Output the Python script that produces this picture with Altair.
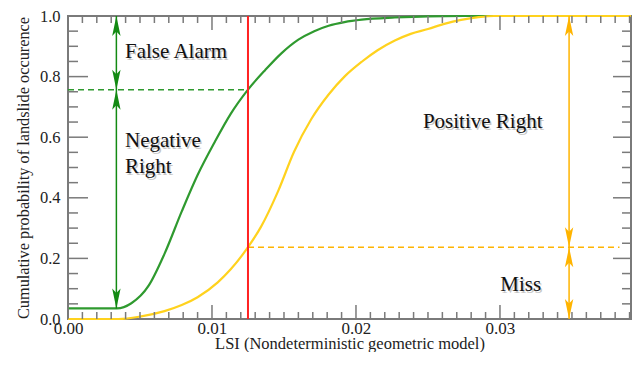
import altair as alt
import pandas as pd

# ---------------- data ----------------
green_x = [0.0, 0.0034, 0.0044, 0.0056, 0.0067, 0.0079, 0.0090, 0.0102, 0.0113, 0.0125,
           0.0137, 0.0148, 0.0160, 0.0171, 0.0181, 0.0192, 0.0204, 0.0227, 0.0250, 0.0275, 0.0391]
green_y = [0.035, 0.035, 0.052, 0.110, 0.215, 0.355, 0.475, 0.585, 0.677, 0.757,
           0.822, 0.876, 0.922, 0.950, 0.968, 0.980, 0.988, 0.995, 0.999, 1.0, 1.0]

yellow_x = [0.0, 0.0035, 0.0050, 0.0067, 0.0079, 0.0090, 0.0104, 0.0113, 0.0125, 0.0134,
            0.0146, 0.0157, 0.0169, 0.0181, 0.0192, 0.0204, 0.0215, 0.0227, 0.0238, 0.0250,
            0.0262, 0.0273, 0.0285, 0.0296, 0.0391]
yellow_y = [0.0, 0.0, 0.008, 0.026, 0.046, 0.072, 0.121, 0.164, 0.237, 0.304,
            0.423, 0.552, 0.660, 0.741, 0.800, 0.849, 0.887, 0.919, 0.941, 0.957,
            0.975, 0.987, 0.996, 1.0, 1.0]

threshold = [0.0125]
green_level = [0.757]
yellow_level = [0.237]
green_arrow_x = [0.00336]
green_floor = [0.035]
yellow_arrow_x = [0.0348]
yellow_dash_end = [0.0383]

label_texts = ["False Alarm", "Negative", "Right", "Positive Right", "Miss"]
label_x = [0.00396, 0.00396, 0.00396, 0.02465, 0.03002]
label_y = [0.860, 0.567, 0.481, 0.629, 0.091]

x_major = [0.0, 0.01, 0.02, 0.03]
x_minor = [0.001, 0.002, 0.003, 0.004, 0.005, 0.006, 0.007, 0.008, 0.009,
           0.011, 0.012, 0.013, 0.014, 0.015, 0.016, 0.017, 0.018, 0.019,
           0.021, 0.022, 0.023, 0.024, 0.025, 0.026, 0.027, 0.028, 0.029,
           0.031, 0.032, 0.033, 0.034, 0.035, 0.036, 0.037, 0.038, 0.039]
y_major = [0.2, 0.4, 0.6, 0.8]
y_labels = [0.0, 0.2, 0.4, 0.6, 0.8, 1.0]
y_minor = [0.05, 0.1, 0.15, 0.25, 0.3, 0.35, 0.45, 0.5, 0.55, 0.65, 0.7, 0.75, 0.85, 0.9, 0.95]

# ---------------- styling ----------------
W, H = 563, 303
FONT = "Liberation Serif"
FRAME = "#7a7a7a"
GREEN_CURVE = "#2f9a2f"
GREEN_ARROW = "#138a13"
YELLOW_CURVE = "#ffd21e"
YELLOW_ARROW = "#ffb400"
RED = "#ff2222"

xs = alt.Scale(domain=[0, 0.0391], nice=False, zero=False)
ys = alt.Scale(domain=[0, 1], nice=False, zero=False)

x_axis = alt.Axis(values=x_major, format=".2f", ticks=False, domain=False, grid=False,
                  labelFlush=False, labelFont=FONT, labelFontSize=17, labelColor="#222",
                  labelPadding=1, title="LSI (Nondeterministic geometric model)",
                  titleFont=FONT, titleFontSize=16.5, titleFontWeight="normal",
                  titleColor="#222", titleY=29, titleBaseline="alphabetic")
y_axis = alt.Axis(values=y_labels, format=".1f", ticks=False, domain=False, grid=False,
                  labelFlush=False, labelFont=FONT, labelFontSize=16.5, labelColor="#222",
                  labelPadding=8, title="Cumulative probability of landslide occurence",
                  titleFont=FONT, titleFontSize=16.3, titleFontWeight="normal",
                  titleColor="#222", titlePadding=8)


def X(field):
    return alt.X(field, scale=xs, axis=x_axis)


def Y(field):
    return alt.Y(field, scale=ys, axis=y_axis)


curves = pd.DataFrame({
    "lsi": green_x + yellow_x,
    "p": green_y + yellow_y,
    "series": ["green"] * len(green_x) + ["yellow"] * len(yellow_x),
    "order": list(range(len(green_x))) + list(range(len(yellow_x))),
})

curve_layer = alt.Chart(curves).mark_line(strokeWidth=2.2, interpolate="monotone").encode(
    x=X("lsi:Q"),
    y=Y("p:Q"),
    color=alt.Color("series:N", scale=alt.Scale(domain=["green", "yellow"],
                                                range=[GREEN_CURVE, YELLOW_CURVE]), legend=None),
    order="order:Q",
)


# ticks (inside)
def vticks(values, length, bottom):
    df = pd.DataFrame({"v": values})
    y0 = H if bottom else 0
    y1 = H - length if bottom else length
    return alt.Chart(df).mark_rule(color=FRAME, strokeWidth=1.5).encode(
        x=X("v:Q"), y=alt.value(y0), y2=alt.value(y1))


def hticks(values, length, left):
    df = pd.DataFrame({"v": values})
    x0 = 0 if left else W
    x1 = length if left else W - length
    return alt.Chart(df).mark_rule(color=FRAME, strokeWidth=1.5).encode(
        y=Y("v:Q"), x=alt.value(x0), x2=alt.value(x1))


tick_layers = [
    vticks(x_minor, 7, True), vticks(x_major, 14, True),
    vticks(x_minor, 7, False), vticks(x_major, 14, False),
    hticks(y_minor, 10, True), hticks(y_major, 20, True),
    hticks(y_minor, 9, False), hticks(y_major, 18, False),
]

# dashed levels
green_dash = alt.Chart(pd.DataFrame({"x0": [0.0], "x1": threshold, "y": green_level})).mark_rule(
    color=GREEN_CURVE, strokeWidth=1.5, strokeDash=[6, 4]).encode(
    x=X("x0:Q"), x2="x1:Q", y=Y("y:Q"))
yellow_dash = alt.Chart(pd.DataFrame({"x0": threshold, "x1": yellow_dash_end, "y": yellow_level})).mark_rule(
    color=YELLOW_ARROW, strokeWidth=1.5, strokeDash=[6, 4]).encode(
    x=X("x0:Q"), x2="x1:Q", y=Y("y:Q"))

# red threshold line
red_line = alt.Chart(pd.DataFrame({"x": threshold})).mark_rule(color=RED, strokeWidth=2).encode(
    x=X("x:Q"))

# arrow shafts
green_shaft = alt.Chart(pd.DataFrame({"x": green_arrow_x, "y0": green_floor, "y1": [1.0]})).mark_rule(
    color=GREEN_ARROW, strokeWidth=1.5).encode(x=X("x:Q"), y=Y("y0:Q"), y2="y1:Q")
yellow_shaft = alt.Chart(pd.DataFrame({"x": yellow_arrow_x, "y0": [0.0], "y1": [1.0]})).mark_rule(
    color=YELLOW_ARROW, strokeWidth=1.5).encode(x=X("x:Q"), y=Y("y0:Q"), y2="y1:Q")

UP = "M0,0 L0.42,2 L0,1.55 L-0.42,2 Z"
DOWN = "M0,0 L0.42,-2 L0,-1.55 L-0.42,-2 Z"


def heads(xv, yvals, shape, color):
    df = pd.DataFrame({"x": xv * len(yvals), "y": yvals})
    return alt.Chart(df).mark_point(shape=shape, size=400, filled=True, color=color,
                                    opacity=1, strokeWidth=0).encode(x=X("x:Q"), y=Y("y:Q"))


head_layers = [
    heads(green_arrow_x, [1.0, green_level[0]], UP, GREEN_ARROW),
    heads(green_arrow_x, [green_level[0], green_floor[0]], DOWN, GREEN_ARROW),
    heads(yellow_arrow_x, [1.0, yellow_level[0]], UP, YELLOW_ARROW),
    heads(yellow_arrow_x, [yellow_level[0], 0.0], DOWN, YELLOW_ARROW),
]

labels_df = pd.DataFrame({"x": label_x, "y": label_y, "t": label_texts})
shadow = alt.Chart(labels_df).mark_text(font=FONT, fontSize=21, align="left", baseline="alphabetic",
                                        color="#000", opacity=0.22, dx=1.5, dy=1.5).encode(
    x=X("x:Q"), y=Y("y:Q"), text="t:N")
texts = alt.Chart(labels_df).mark_text(font=FONT, fontSize=21, align="left", baseline="alphabetic",
                                       color="#111").encode(
    x=X("x:Q"), y=Y("y:Q"), text="t:N")

chart = alt.layer(
    curve_layer, *tick_layers, green_dash, yellow_dash, green_shaft, yellow_shaft,
    *head_layers, red_line, shadow, texts,
).properties(
    width=W, height=H,
    autosize=alt.AutoSizeParams(type="none"),
    padding={"left": 60, "top": 8, "right": 2, "bottom": 33},
    background="white",
).configure_view(stroke=FRAME, strokeWidth=2)

chart.save("out.html", embed_options={"renderer": "svg", "actions": False})
